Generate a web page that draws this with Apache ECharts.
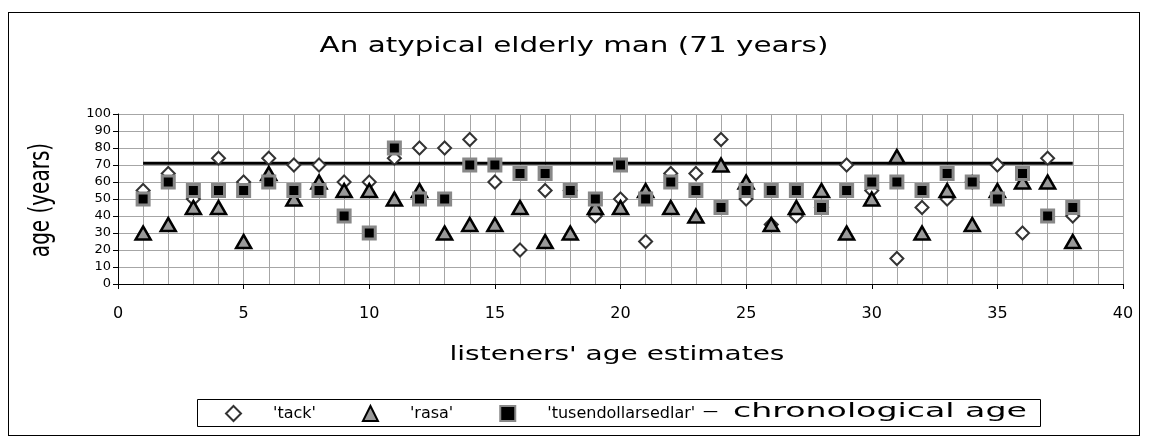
<!DOCTYPE html>
<html lang="en" style="height: 100%">
<head>
  <meta charset="utf-8">
</head>
<body style="height: 100%; margin: 0; background: #fff">
  <div id="frame" style="position: absolute; left: 8px; top: 12px; width: 1132px; height: 424px; border: 1px solid #000; box-sizing: border-box;"></div>
  <div id="container" style="position: absolute; left: 0; top: 0; width: 1149px; height: 446px"></div>

  <script type="text/javascript" src="https://fastly.jsdelivr.net/npm/echarts@6.0.0/dist/echarts.min.js"></script>
  <script type="text/javascript">
    // listener number on the x axis
    var listeners = [1, 2, 3, 4, 5, 6, 7, 8, 9, 10, 11, 12, 13, 14, 15, 16, 17, 18, 19,
      20, 21, 22, 23, 24, 25, 26, 27, 28, 29, 30, 31, 32, 33, 34, 35, 36, 37, 38];
    // age estimates per stimulus word
    var tack = [55, 65, 50, 74, 60, 74, 70, 70, 60, 60, 74, 80, 80, 85, 60, 20, 55, 55, 40,
      50, 25, 65, 65, 85, 50, 35, 40, 45, 70, 55, 15, 45, 50, 60, 70, 30, 74, 40];
    var rasa = [30, 35, 45, 45, 25, 65, 50, 60, 55, 55, 50, 55, 30, 35, 35, 45, 25, 30, 45,
      45, 55, 45, 40, 70, 60, 35, 45, 55, 30, 50, 75, 30, 55, 35, 55, 60, 60, 25];
    var tusen = [50, 60, 55, 55, 55, 60, 55, 55, 40, 30, 80, 50, 50, 70, 70, 65, 65, 55, 50,
      70, 50, 60, 55, 45, 55, 55, 55, 45, 55, 60, 60, 55, 65, 60, 50, 65, 40, 45];
    var chronoAge = 71;

    function pairs(vals) {
      return listeners.map(function (x, i) { return [x, vals[i]]; });
    }

    var dom = document.getElementById('container');
    var myChart = echarts.init(dom, null, { renderer: 'canvas' });
    var font = 'DejaVu Sans';

    // big texts in the original are drawn wide
    function wideText(txt, x, y, size, stretch, opts) {
      opts = opts || {};
      return {
        type: 'text',
        x: x,
        y: y,
        rotation: opts.rotation || 0,
        scaleX: opts.rotation ? 1 : stretch,
        scaleY: opts.rotation ? stretch : 1,
        style: {
          text: txt,
          x: 0,
          y: 0,
          align: opts.align || 'center',
          verticalAlign: 'middle',
          font: size + 'px "' + font + '"',
          fill: '#000'
        }
      };
    }

    var option = {
      animation: false,
      textStyle: { fontFamily: font, color: '#000' },
      graphic: [
        wideText('An atypical elderly man (71 years)', 574, 47, 21, 1.4),
        wideText("listeners' age estimates", 617, 355, 20, 1.4),
        wideText('age (years)', 42, 200, 20, 1.4, { rotation: Math.PI / 2 }),
        {
          type: 'rect',
          shape: { x: 197.5, y: 399.5, width: 843, height: 27 },
          style: { fill: 'none', stroke: '#000', lineWidth: 1 }
        },
        {
          type: 'text',
          x: 703,
          y: 412,
          style: { text: '\u2014', x: 0, y: 0, align: 'left', verticalAlign: 'middle', font: '15px "' + font + '"', fill: '#000' }
        },
        wideText('chronological age', 733, 412, 20, 1.66, { align: 'left' })
      ],
      legend: {
        left: 197,
        top: 399,
        padding: [6, 10, 5, 28],
        itemGap: 46,
        itemWidth: 15,
        itemHeight: 15,
        textStyle: { fontFamily: font, fontSize: 16, color: '#000', padding: [0, 0, 0, 27] },
        data: ["'tack'", "'rasa'", "'tusendollarsedlar'"]
      },
      grid: { left: 118, right: 26, top: 114, bottom: 162 },
      xAxis: {
        type: 'value',
        min: 0,
        max: 40,
        interval: 5,
        axisLine: { lineStyle: { color: '#000', width: 1 } },
        axisTick: { show: true, length: 5, lineStyle: { color: '#000' } },
        axisLabel: { fontFamily: font, fontSize: 16, color: '#000', margin: 22 },
        splitLine: { show: true, lineStyle: { color: '#a6a6a6', width: 1 } },
        minorTick: { show: false, splitNumber: 5 },
        minorSplitLine: { show: true, lineStyle: { color: '#a6a6a6', width: 1 } }
      },
      yAxis: {
        type: 'value',
        min: 0,
        max: 100,
        interval: 10,
        axisLine: { show: true, lineStyle: { color: '#000', width: 1 } },
        axisTick: { show: true, length: 5, lineStyle: { color: '#000' } },
        axisLabel: { fontFamily: font, fontSize: 13, color: '#000', margin: 7 },
        splitLine: { show: true, lineStyle: { color: '#a6a6a6', width: 1 } }
      },
      series: [
        {
          name: 'chronological age',
          type: 'line',
          z: 1,
          symbol: 'none',
          data: [[listeners[0], chronoAge], [listeners[listeners.length - 1], chronoAge]],
          lineStyle: { color: '#000', width: 3 },
          itemStyle: { color: '#000' }
        },
        {
          name: "'tack'",
          type: 'scatter',
          z: 2,
          symbol: 'diamond',
          symbolSize: [13, 13],
          data: pairs(tack),
          itemStyle: { color: '#fff', borderColor: '#333', borderWidth: 2, opacity: 1 }
        },
        {
          name: "'rasa'",
          type: 'scatter',
          z: 3,
          symbol: 'triangle',
          symbolSize: [15, 13],
          data: pairs(rasa),
          itemStyle: { color: '#999', borderColor: '#000', borderWidth: 2.5, opacity: 1 }
        },
        {
          name: "'tusendollarsedlar'",
          type: 'scatter',
          z: 4,
          symbol: 'rect',
          symbolSize: [12, 12],
          data: pairs(tusen),
          itemStyle: { color: '#000', borderColor: '#888', borderWidth: 3, opacity: 1 }
        }
      ]
    };

    myChart.setOption(option);
    window.addEventListener('resize', myChart.resize);
  </script>
</body>
</html>
